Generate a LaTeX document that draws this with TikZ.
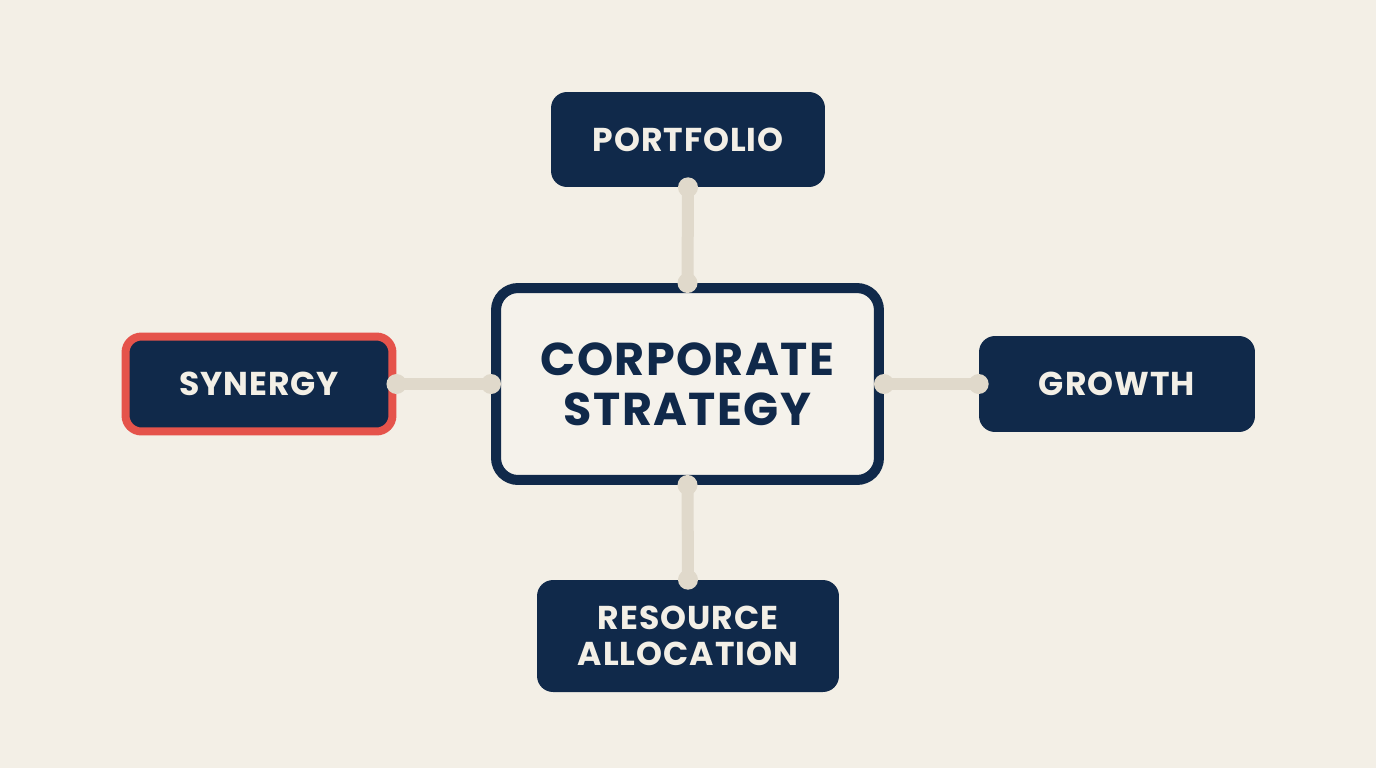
\documentclass[tikz,border=0pt]{standalone}
\usepackage{fontspec}
\setmainfont{Poppins}[LetterSpace=3.0]
\usepackage{tikz}
\usetikzlibrary{calc}

\definecolor{bgc}{HTML}{F3EFE6}
\definecolor{navy}{HTML}{10294A}
\definecolor{alert}{HTML}{E5534B}
\definecolor{linkc}{HTML}{E0D9CB}
\definecolor{paper}{HTML}{F5F2EB}

\tikzset{
    leaf/.style={fill=navy, text=bgc, rounded corners=0.32cm, align=center,
        inner sep=0pt, font=\fontsize{18.8}{20.4}\selectfont\bfseries},
    hub/.style={draw=navy, line width=0.2cm, fill=paper, text=navy, rounded corners=0.44cm,
        align=center, inner sep=0pt, font=\fontsize{26.2}{28.3}\selectfont\bfseries},
    link/.style={draw=linkc, line width=0.24cm}
}

\begin{document}
\begin{tikzpicture}[x=0.02cm, y=-0.02cm]
        \fill[bgc] (0,0) rectangle (1376,768);

        \node[hub, minimum width=7.66cm, minimum height=3.84cm] (core) at (687.5,384) {CORPORATE\\STRATEGY};
        \node[leaf, minimum width=5.48cm, minimum height=1.9cm] (portfolio) at (688,139.5) {PORTFOLIO};
        \node[leaf, draw=alert, line width=0.16cm, minimum width=5.34cm, minimum height=1.9cm] (synergy) at (259,384) {SYNERGY};
        \node[leaf, minimum width=5.52cm, minimum height=1.92cm] (growth) at (1117,384) {GROWTH};
        \node[leaf, minimum width=6.04cm, minimum height=2.24cm] (resource) at (688,636) {RESOURCE\\ALLOCATION};

        % connectors with round ends
        \foreach \a/\b in {portfolio.south/core.north, synergy.east/core.west,
                core.east/growth.west, core.south/resource.north}
        {
            \draw[link] (\a) -- (\b);
            \fill[linkc] (\a) circle (0.2cm);
            \fill[linkc] (\b) circle (0.2cm);
        }
\end{tikzpicture}
\end{document}
